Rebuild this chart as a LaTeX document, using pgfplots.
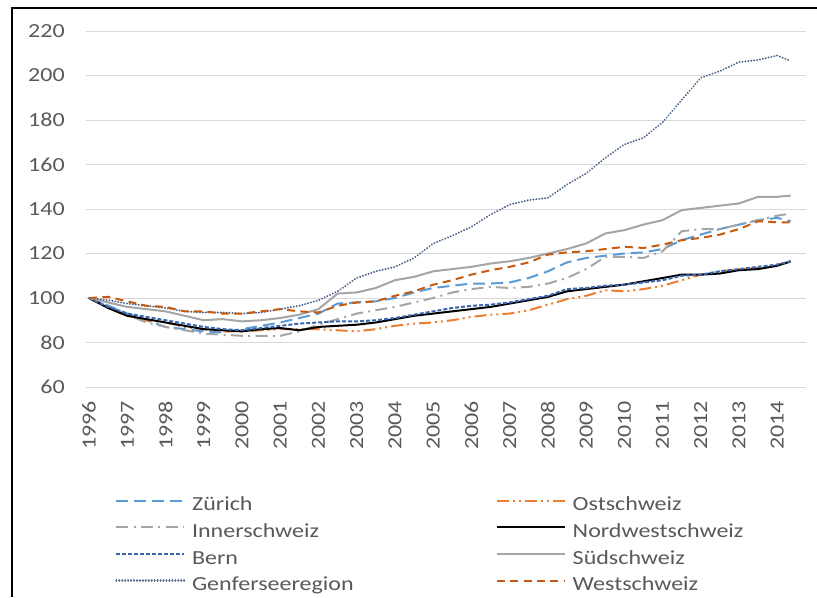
\documentclass[border=0pt]{standalone}
\usepackage{pgfplots}
\pgfplotsset{compat=1.18}
\usepackage{pgfplotstable}
\usepackage{fontspec}
\setmainfont{Carlito}[FakeStretch=1.2]
\definecolor{zur}{HTML}{5B9BD5}
\definecolor{ost}{HTML}{ED7D31}
\definecolor{inner}{HTML}{A5A5A5}
\definecolor{bern}{HTML}{3A66B0}
\definecolor{sud}{HTML}{A5A5A5}
\definecolor{genf}{HTML}{4A6088}
\definecolor{west}{HTML}{C55A11}
\definecolor{txt}{HTML}{595959}
\definecolor{grd}{HTML}{D9D9D9}
\pgfplotstableread{
x Z O I N B S G W
1996.0 100 100 100 100 100 100 100 100
1996.5 96.5 95.5 96 95.5 96 98 99 100.5
1997.0 93 92 92.5 92 93 96 97.5 98.5
1997.5 90 90 89 90.5 91.5 95 96.5 96.5
1998.0 87 89 87 89 90 94 95.5 96
1998.5 86 87 85.5 87.5 88.5 92 94 94
1999.0 85 86 84 86 87 90 93.5 94
1999.5 84.5 85 83.5 85.5 86 90.5 93.5 93
2000.0 86 85 83 85 85.5 89.5 93 93
2000.5 87.5 85.5 83 86 86.5 90 93.5 94
2001.0 89 86 83 86.5 87.5 91 95 95
2001.5 91 86 85 85.5 88.5 92.5 96.5 94
2002.0 93 86 88 87 89 95 99 93.5
2002.5 97.5 85.5 90.5 87.5 89.5 102 103 96.5
2003.0 98 85 93 88 89.5 102.5 109 98
2003.5 98.5 86 94.5 89 90 104.5 112 98.5
2004.0 100 87.5 96 90.5 91 108 114 101
2004.5 102.5 88.5 98 92 92.5 109.5 118 103
2005.0 104.5 89 100 93 94 112 124.5 106
2005.5 105.5 90 102.5 94 95.5 113 128 108
2006.0 106.5 91.5 104 95 96.5 114 132 110.5
2006.5 106.5 92.5 105 96 97 115.5 137.5 112.5
2007.0 107 93 104.5 97.5 98 116.5 142 114
2007.5 109 94.5 105 99 99.5 118 144 116
2008.0 112 97 106.5 100.5 101 120 145 119.5
2008.5 116 99.5 109 103 104 122 151 120.5
2009.0 118 101 113 104 104.5 124.5 156 121
2009.5 119 103.5 118.5 105 105.5 129 163 122
2010.0 120 103 118.5 106 106 130.5 169 123
2010.5 120.5 104 118 107.5 107 133 172 122.5
2011.0 122 105.5 121 109 108 135 179 124
2011.5 126 108 130 110.5 110 139.5 189 126
2012.0 128.5 110.5 131 110.5 110.5 140.5 199 127
2012.5 131 112 131 111 112 141.5 202 128.5
2013.0 133 113 133 112.5 113 142.5 206 131
2013.5 135 113.5 135 113 114 145.5 207 134.5
2014.0 136 115 137 114.5 115 145.5 209 134
2014.35 134.5 116 138 116.5 116.5 146 206.5 134
}\data
\begin{document}
\begin{tikzpicture}
\useasboundingbox (0pt,0pt) rectangle (612.75pt,447.75pt);
\draw[line width=2pt] (9pt,0pt) -- (9pt,441.75pt) -- (612.75pt,441.75pt);
\begin{axis}[
  at={(64.5pt,157.5pt)}, anchor=south west,
  scale only axis, width=540pt, height=267pt,
  xmin=1995.92, xmax=2014.75, ymin=60, ymax=220,
  xtick={1996,1997,...,2014},
  x tick label style={/pgf/number format/1000 sep={}},
  ytick={60,80,...,220},
  axis line style={draw=none},
  tick style={draw=none},
  major tick length=0pt,
  ymajorgrids, grid style={grd, line width=0.75pt},
  /pgf/number format/assume math mode=true,
  tick label style={font=\fontsize{15}{18}\selectfont, text=txt},
  xticklabel style={rotate=90, anchor=east, inner sep=0pt},
  xticklabel shift=10.5pt,
  yticklabel style={anchor=east, inner sep=0pt},
  yticklabel shift=15.75pt,
  legend columns=2,
  legend style={at={(0.0403,-0.306)}, anchor=north west, draw=none, fill=none,
    inner sep=0pt, column sep=5pt, row sep=5.5pt,
    font=\fontsize{15}{18}\selectfont, text=txt,
    nodes={inner sep=0pt, text height=11pt, text depth=3.5pt}},
  legend cell align=left,
  legend image code/.code={\draw[#1] (0pt,4pt) -- (51pt,4pt);},
  every axis plot/.append style={line width=1.5pt},
]
\addplot[zur, dash pattern=on 9pt off 4.5pt] table[x=x,y=Z]{\data};
\addlegendentry{\makebox[223pt][l]{Zürich}}
\addplot[ost, dash pattern=on 9pt off 3pt on 1.5pt off 3pt on 1.5pt off 3pt] table[x=x,y=O]{\data};
\addlegendentry{Ostschweiz}
\addplot[inner, dash pattern=on 9pt off 4pt on 1.5pt off 4pt] table[x=x,y=I]{\data};
\addlegendentry{\makebox[223pt][l]{Innerschweiz}}
\addplot[black] table[x=x,y=N]{\data};
\addlegendentry{Nordwestschweiz}
\addplot[bern, dash pattern=on 3pt off 1.5pt] table[x=x,y=B]{\data};
\addlegendentry{\makebox[223pt][l]{Bern}}
\addplot[sud] table[x=x,y=S]{\data};
\addlegendentry{Südschweiz}
\addplot[genf, line cap=round, line width=1.6pt, dash pattern=on 0.01pt off 2.2pt] table[x=x,y=G]{\data};
\addlegendentry{\makebox[223pt][l]{Genferseeregion}}
\addplot[west, dash pattern=on 6pt off 4pt] table[x=x,y=W]{\data};
\addlegendentry{Westschweiz}
\end{axis}
\end{tikzpicture}
\end{document}
